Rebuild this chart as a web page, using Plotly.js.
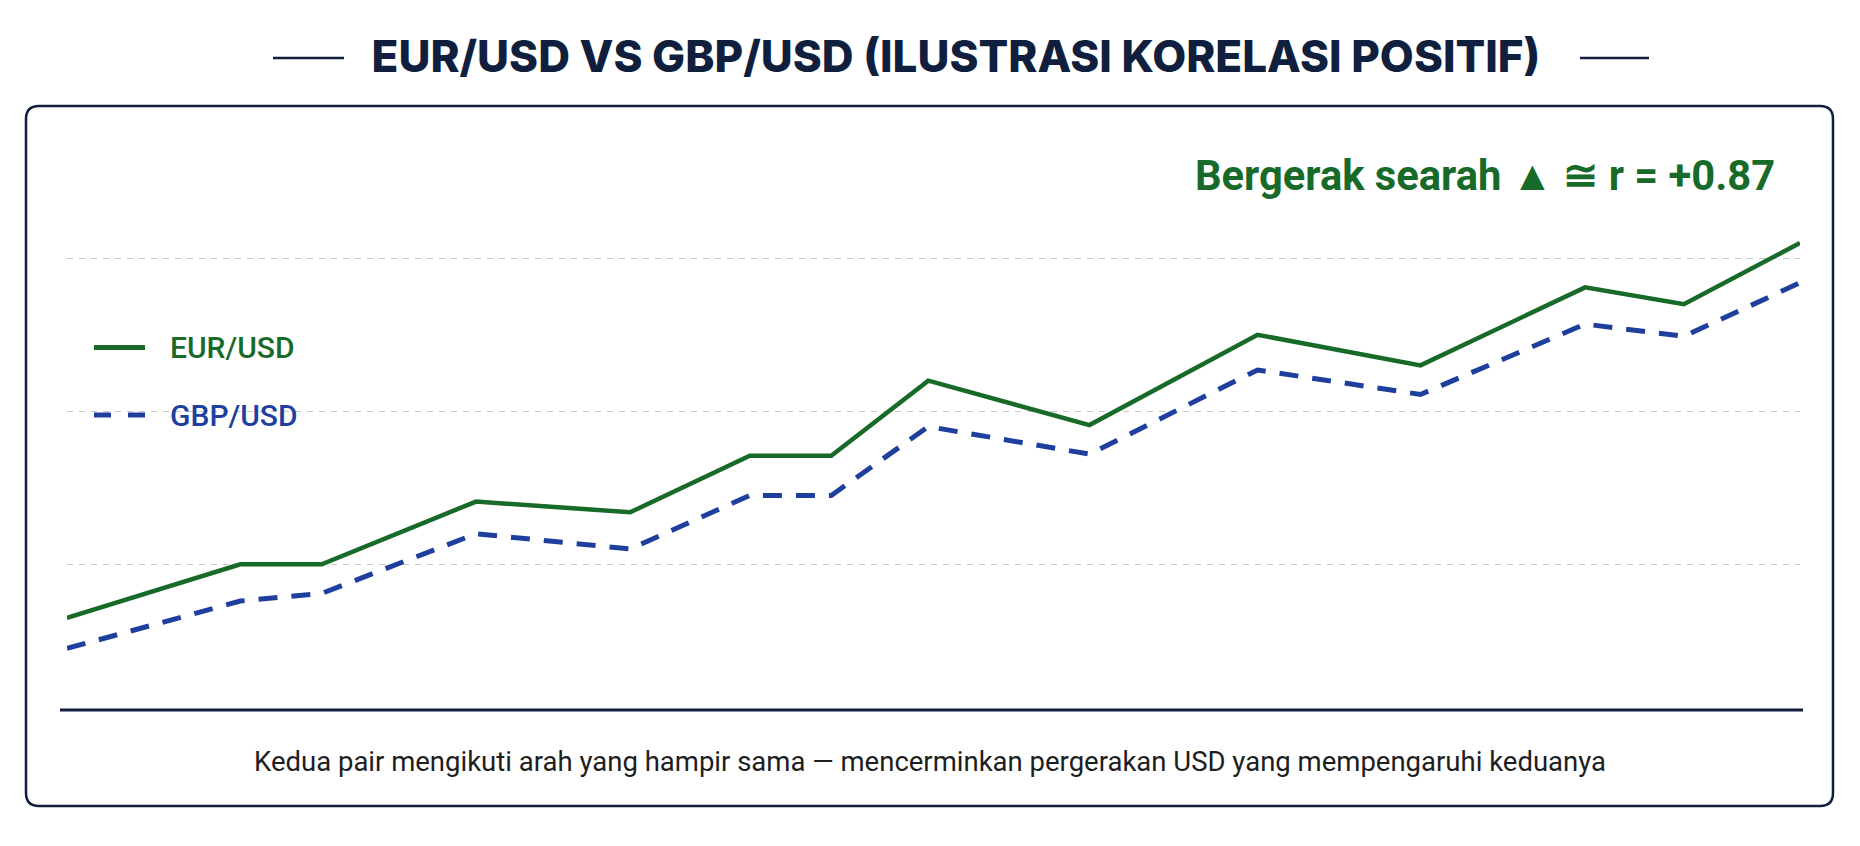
<!DOCTYPE html>
<html>
<head>
<meta charset="utf-8">
<script src="https://cdn.plot.ly/plotly-3.0.1.min.js"></script>
<style>
  html, body { margin: 0; padding: 0; background: #ffffff; }
  #chart { width: 1860px; height: 846px; }
</style>
</head>
<body>
<div id="chart"></div>
<script>
// Illustrative trend index for the two pairs (unitless, gridlines at 1, 2, 3)
const periods = [0, 10, 14.7, 23.6, 32.5, 39.4, 44.1, 49.7, 59.0, 68.7, 78.1, 87.6, 93.3, 100];
const eurusd  = [0.65, 1.00, 1.00, 1.41, 1.34, 1.71, 1.71, 2.20, 1.91, 2.50, 2.30, 2.81, 2.70, 3.10];
const gbpusd  = [0.45, 0.76, 0.81, 1.20, 1.10, 1.45, 1.45, 1.90, 1.72, 2.27, 2.11, 2.57, 2.49, 2.84];
const seriesNames = ['EUR/USD', 'GBP/USD'];
const gridValues = [1, 2, 3];

const titleText = 'EUR/USD VS GBP/USD (ILUSTRASI KORELASI POSITIF)';
const badgeText = 'Bergerak searah ▲ ≅ r = +0.87';
const captionText = 'Kedua pair mengikuti arah yang hampir sama — mencerminkan pergerakan USD yang mempengaruhi keduanya';

const GREEN = '#186a29';
const BLUE = '#1f3f9f';
const NAVY = '#0f1f3d';

// Plot-area frame in page pixels, used to place decorations in paper units
const FIG_W = 1860, FIG_H = 846;
const L = 67, R = 1800, T = 200, B = 710;
const W = R - L, H = B - T;
const px = x => (x - L) / W;
const py = y => (B - y) / H;

// Rounded card outline
function roundedRect(x0, y0, x1, y1, r) {
  const P = (x, y) => px(x).toFixed(5) + ',' + py(y).toFixed(5);
  return 'M' + P(x0 + r, y0) + ' L' + P(x1 - r, y0) + ' Q' + P(x1, y0) + ' ' + P(x1, y0 + r) +
         ' L' + P(x1, y1 - r) + ' Q' + P(x1, y1) + ' ' + P(x1 - r, y1) +
         ' L' + P(x0 + r, y1) + ' Q' + P(x0, y1) + ' ' + P(x0, y1 - r) +
         ' L' + P(x0, y0 + r) + ' Q' + P(x0, y0) + ' ' + P(x0 + r, y0) + ' Z';
}

const traces = [
  {
    x: periods, y: eurusd, name: seriesNames[0], type: 'scatter', mode: 'lines',
    line: { color: GREEN, width: 4.5 }, showlegend: false, hoverinfo: 'skip'
  },
  {
    x: periods, y: gbpusd, name: seriesNames[1], type: 'scatter', mode: 'lines',
    line: { color: BLUE, width: 5, dash: '19px,14px' }, showlegend: false, hoverinfo: 'skip'
  }
];

const shapes = [
  // card
  { type: 'path', xref: 'paper', yref: 'paper', path: roundedRect(26, 106, 1833, 806, 13),
    line: { color: NAVY, width: 2.5 }, fillcolor: 'rgba(0,0,0,0)', layer: 'below' },
  // baseline
  { type: 'line', xref: 'paper', yref: 'paper', x0: px(60), x1: px(1803), y0: 0, y1: 0,
    line: { color: NAVY, width: 3 } },
  // title rules
  { type: 'line', xref: 'paper', yref: 'paper', x0: px(273), x1: px(344), y0: py(58), y1: py(58),
    line: { color: NAVY, width: 2.5 } },
  { type: 'line', xref: 'paper', yref: 'paper', x0: px(1580), x1: px(1649), y0: py(58), y1: py(58),
    line: { color: NAVY, width: 2.5 } },
  // legend keys
  { type: 'line', xref: 'paper', yref: 'paper', x0: px(94), x1: px(145), y0: py(347.5), y1: py(347.5),
    line: { color: GREEN, width: 5 } },
  { type: 'line', xref: 'paper', yref: 'paper', x0: px(94), x1: px(146), y0: py(415), y1: py(415),
    line: { color: BLUE, width: 5, dash: '17px,17px' } }
];

const annotations = [
  { xref: 'paper', yref: 'paper', x: px(1777), y: py(175.5), xanchor: 'right', yanchor: 'middle',
    text: badgeText, showarrow: false,
    font: { family: 'Roboto, sans-serif', size: 41.7, color: GREEN, weight: 700 } },
  { xref: 'paper', yref: 'paper', x: px(168), y: py(347.5), xanchor: 'left', yanchor: 'middle',
    text: seriesNames[0], showarrow: false,
    font: { family: 'Roboto, sans-serif', size: 30, color: GREEN, weight: 500 } },
  { xref: 'paper', yref: 'paper', x: px(168), y: py(415), xanchor: 'left', yanchor: 'middle',
    text: seriesNames[1], showarrow: false,
    font: { family: 'Roboto, sans-serif', size: 30, color: BLUE, weight: 500 } },
  { xref: 'paper', yref: 'paper', x: px(930), y: py(761), xanchor: 'center', yanchor: 'middle',
    text: captionText, showarrow: false,
    font: { family: 'Roboto, sans-serif', size: 27.5, color: '#1e1e1e' } }
];

const layout = {
  width: FIG_W, height: FIG_H,
  margin: { l: L, r: FIG_W - R, t: T, b: FIG_H - B, pad: 0 },
  paper_bgcolor: '#ffffff', plot_bgcolor: '#ffffff',
  title: {
    text: titleText,
    x: 956 / FIG_W, xref: 'container', xanchor: 'center',
    y: 1 - 57 / FIG_H, yref: 'container', yanchor: 'middle',
    font: { family: 'Inter, sans-serif', size: 44, color: NAVY, weight: 800 }
  },
  xaxis: {
    range: [0, 100], showgrid: false, zeroline: false, showline: false,
    showticklabels: false, ticks: '', fixedrange: true
  },
  yaxis: {
    range: [0.0477, 3.381], tickvals: gridValues, showgrid: true,
    gridcolor: '#c8c8c8', gridwidth: 1.5, griddash: '6px,6px',
    zeroline: false, showline: false, showticklabels: false, ticks: '', fixedrange: true
  },
  shapes: shapes,
  annotations: annotations,
  showlegend: false
};

Plotly.newPlot('chart', traces, layout, { displayModeBar: false, staticPlot: true });
</script>
</body>
</html>
